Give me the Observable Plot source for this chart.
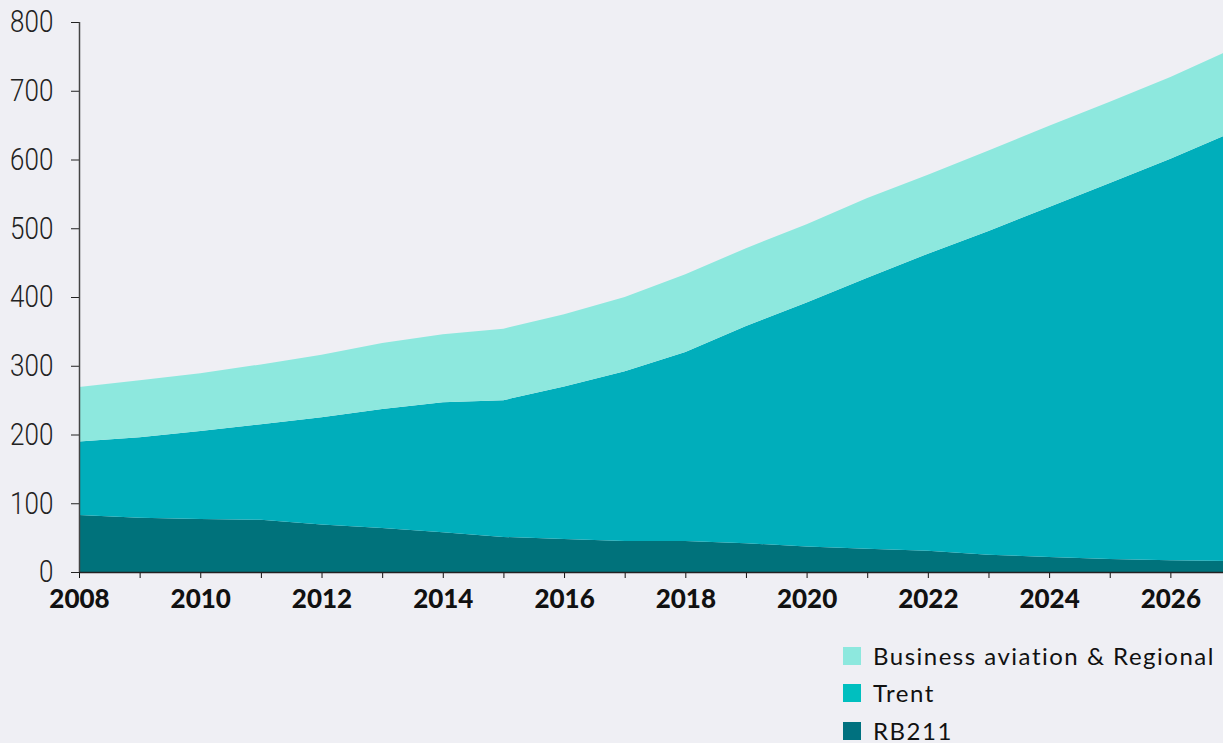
<!DOCTYPE html>
<html>
<head>
<meta charset="utf-8">
<script src="https://cdn.jsdelivr.net/npm/d3@7"></script>
<script src="https://cdn.jsdelivr.net/npm/@observablehq/plot@0.6"></script>
<style>
html, body { margin: 0; padding: 0; background: #efeff4; overflow: hidden; width: 1223px; height: 743px; }
#chart { position: absolute; left: 0; top: 0; }
#legend { position: absolute; left: 843px; top: 637px; font-family: Lato, "Open Sans", sans-serif; font-size: 24px; line-height: 28px; color: #111; letter-spacing: 1.5px; }
.row { display: flex; align-items: center; height: 37.5px; }
.sw { width: 18px; height: 18px; margin-right: 12px; flex: none; }
</style>
</head>
<body>
<div id="chart"></div>
<div id="legend"></div>
<script>
const years    = [2008,2009,2010,2011,2012,2013,2014,2015,2016,2017,2018,2019,2020,2021,2022,2023,2024,2025,2026,2027];
const rb211    = [83, 79, 77, 76, 69, 64, 58, 51, 48, 45, 45, 42, 37, 34, 31, 25, 22, 19, 17, 16];
const trent    = [107,117,128,139,156,173,189,199,222,247,275,316,355,394,432,471,509,547,584,623];
const business = [79, 83, 84, 87, 91, 96, 99, 104,105,108,113,113,114,116,115,117,118,118,119,121];
const seriesNames = ["RB211", "Trent", "Business aviation & Regional"];
const areaColors = ["#00727b", "#00aebb", "#8de8de"];
const legendColors = ["#00717f", "#00bfbf", "#8de8de"];
const yTicks = [0,100,200,300,400,500,600,700,800];

const data = [];
[rb211, trent, business].forEach((vals, i) => {
  vals.forEach((v, j) => data.push({year: years[j], value: v, series: seriesNames[i]}));
});

const chart = Plot.plot({
  width: 1231,
  height: 620,
  marginLeft: 79,
  marginRight: 0,
  marginTop: 22,
  marginBottom: 48,
  style: {background: "transparent", maxWidth: "none", overflow: "visible"},
  x: {domain: [2008, 2027]},
  y: {domain: [0, 800]},
  color: {domain: seriesNames, range: areaColors},
  marks: [
    Plot.areaY(data, {x: "year", y: "value", fill: "series"}),
    Plot.axisY({ticks: yTicks, tickSize: 8, tickPadding: 18, label: null, color: "#222",
      fontSize: 31, fontWeight: 300, fontFamily: "Roboto, sans-serif", tickFormat: d => String(d)}),
    Plot.axisX({ticks: years, tickSize: 6, tickPadding: 11, label: null, color: "#111",
      fontSize: 26, fontWeight: 900, fontFamily: "Lato, sans-serif",
      tickFormat: d => d % 2 === 0 ? String(d) : ""}),
    Plot.ruleX([2008], {stroke: "#444", strokeWidth: 1.5}),
    Plot.ruleY([0], {stroke: "#222", strokeWidth: 1.5})
  ]
});
document.getElementById("chart").appendChild(chart);

// condense the y tick labels horizontally around their right edge (x = 53)
const yg = chart.querySelector('g[aria-label="y-axis tick label"]');
if (yg) {
  const old = yg.getAttribute("transform") || "";
  yg.setAttribute("transform", `translate(53,0) scale(0.84,1) translate(-53,0) ${old}`);
}

const legend = document.getElementById("legend");
[2, 1, 0].forEach(i => {
  const row = document.createElement("div");
  row.className = "row";
  const sw = document.createElement("span");
  sw.className = "sw";
  sw.style.background = legendColors[i];
  const t = document.createElement("span");
  t.textContent = seriesNames[i];
  row.appendChild(sw); row.appendChild(t);
  legend.appendChild(row);
});
</script>
</body>
</html>
